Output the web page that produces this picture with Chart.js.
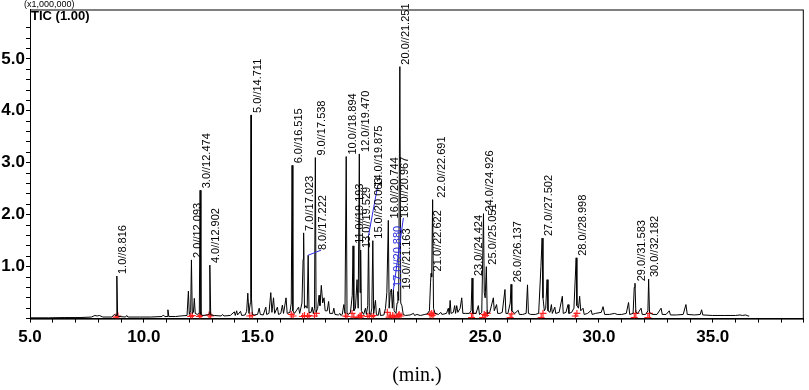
<!DOCTYPE html>
<html lang="en">
<head>
<meta charset="UTF-8">
<title>TIC chromatogram</title>
<style>
  body { margin: 0; background: #fff; }
</style>
</head>
<body>
<canvas id="myChart" width="809" height="390"></canvas>
<script src="https://cdn.jsdelivr.net/npm/chart.js"></script>
<script>
// retention time (min.) / intensity (x1,000,000)
const trace = [
  [5.00,0.015],[5.80,0.015],[6.50,0.02],[7.20,0.02],[7.70,0.03],[7.85,0.06],[7.95,0.05],[8.05,0.06],[8.20,0.03],
  [8.60,0.03],[8.70,0.08],[8.78,0.06],[8.816,0.82],[8.85,0.06],[8.90,0.04],[9.20,0.03],[9.25,0.06],[9.30,0.03],
  [9.80,0.03],[10.30,0.03],[10.80,0.04],[10.86,0.07],[10.92,0.04],[11.02,0.04],[11.06,0.17],[11.10,0.04],
  [11.40,0.04],[11.60,0.05],[11.90,0.06],[11.96,0.53],[12.00,0.08],[12.06,0.15],[12.093,1.13],[12.13,0.10],
  [12.18,0.12],[12.22,0.39],[12.26,0.10],[12.35,0.08],[12.44,0.10],[12.474,2.47],[12.51,0.08],[12.60,0.06],
  [12.80,0.07],[12.87,0.09],[12.902,1.03],[12.94,0.07],[13.10,0.06],[13.40,0.05],[13.46,0.08],[13.52,0.05],
  [13.80,0.06],[13.98,0.13],[14.02,0.06],[14.08,0.15],[14.12,0.07],[14.25,0.14],[14.30,0.06],[14.45,0.07],
  [14.52,0.14],[14.57,0.49],[14.62,0.10],[14.68,0.30],[14.70,2.40],[14.711,3.92],[14.73,0.40],[14.77,0.08],
  [14.85,0.07],[15.00,0.08],[15.07,0.20],[15.12,0.08],[15.25,0.07],[15.36,0.22],[15.40,0.08],[15.50,0.10],
  [15.58,0.50],[15.63,0.12],[15.70,0.40],[15.75,0.10],[15.87,0.22],[15.92,0.08],[16.02,0.10],[16.09,0.26],
  [16.14,0.10],[16.25,0.40],[16.30,0.10],[16.42,0.12],[16.48,0.30],[16.515,2.95],[16.55,0.15],[16.62,0.10],
  [16.70,0.15],[16.80,0.22],[16.85,0.10],[16.95,0.30],[17.00,1.14],[17.023,1.65],[17.06,0.20],[17.12,0.25],
  [17.18,0.20],[17.222,1.22],[17.26,0.12],[17.35,0.12],[17.40,0.22],[17.45,0.10],[17.50,0.20],[17.538,3.10],
  [17.57,0.12],[17.64,0.20],[17.70,0.45],[17.74,0.25],[17.80,0.64],[17.86,0.30],[17.92,0.40],[17.97,0.15],
  [18.06,0.15],[18.12,0.33],[18.17,0.10],[18.30,0.10],[18.35,0.20],[18.40,0.08],[18.55,0.07],[18.62,0.10],
  [18.66,0.06],[18.72,0.08],[18.79,0.27],[18.84,0.10],[18.894,3.12],[18.93,0.10],[19.00,0.08],[19.08,0.12],
  [19.16,0.45],[19.193,1.40],[19.23,0.15],[19.30,0.20],[19.37,0.75],[19.42,0.20],[19.470,3.17],[19.50,0.50],
  [19.529,1.32],[19.56,0.15],[19.66,0.08],[19.74,0.20],[19.78,0.08],[19.84,0.25],[19.875,1.60],[19.91,0.10],
  [19.97,0.08],[20.02,0.20],[20.063,1.50],[20.10,0.10],[20.18,0.35],[20.22,0.08],[20.30,0.06],[20.36,0.20],
  [20.40,0.06],[20.55,0.07],[20.62,0.20],[20.68,0.50],[20.744,1.89],[20.78,0.20],[20.83,0.50],[20.880,0.57],
  [20.92,0.20],[20.967,0.55],[21.00,0.15],[21.08,0.10],[21.13,0.30],[21.163,0.52],[21.20,0.35],[21.251,4.85],
  [21.29,0.30],[21.34,0.25],[21.40,0.08],[21.50,0.06],[21.70,0.07],[21.85,0.10],[21.90,0.06],[22.00,0.08],
  [22.15,0.06],[22.35,0.08],[22.45,0.09],[22.55,0.15],[22.60,0.70],[22.622,0.87],[22.65,0.80],[22.691,2.29],
  [22.73,0.20],[22.80,0.10],[22.95,0.08],[23.05,0.12],[23.10,0.08],[23.30,0.10],[23.38,0.20],[23.42,0.08],
  [23.46,0.35],[23.50,0.10],[23.60,0.12],[23.66,0.25],[23.70,0.10],[23.75,0.25],[23.80,0.12],[23.90,0.20],
  [23.97,0.40],[24.02,0.10],[24.15,0.10],[24.30,0.10],[24.38,0.15],[24.424,0.78],[24.46,0.10],[24.60,0.10],
  [24.70,0.25],[24.75,0.08],[24.85,0.12],[24.90,1.40],[24.926,2.02],[24.96,0.50],[25.00,0.40],[25.051,1.00],
  [25.09,0.10],[25.20,0.12],[25.36,0.40],[25.40,0.15],[25.50,0.27],[25.55,0.10],[25.65,0.10],[25.75,0.12],
  [25.87,0.56],[25.91,0.10],[26.00,0.10],[26.10,0.30],[26.137,0.66],[26.17,0.15],[26.30,0.10],[26.45,0.16],
  [26.50,0.08],[26.65,0.08],[26.80,0.10],[26.86,0.65],[26.90,0.10],[27.00,0.08],[27.20,0.08],[27.35,0.10],
  [27.45,1.00],[27.502,1.55],[27.54,0.40],[27.60,0.15],[27.66,0.20],[27.72,0.75],[27.76,0.15],[27.85,0.12],
  [27.91,0.27],[27.95,0.10],[28.06,0.22],[28.10,0.10],[28.25,0.12],[28.39,0.43],[28.43,0.10],[28.55,0.12],
  [28.64,0.27],[28.68,0.10],[28.80,0.12],[28.90,0.20],[28.998,1.17],[29.03,0.25],[29.10,0.20],[29.15,0.43],
  [29.20,0.15],[29.30,0.20],[29.35,0.08],[29.50,0.10],[29.66,0.16],[29.70,0.08],[29.85,0.10],[30.10,0.12],
  [30.18,0.23],[30.25,0.08],[30.45,0.08],[30.69,0.10],[30.80,0.08],[31.00,0.08],[31.20,0.10],[31.30,0.31],
  [31.35,0.08],[31.50,0.10],[31.55,0.60],[31.583,0.68],[31.62,0.12],[31.70,0.10],[31.85,0.20],[31.90,0.08],
  [32.05,0.08],[32.15,0.15],[32.182,0.76],[32.22,0.12],[32.35,0.08],[32.55,0.08],[32.73,0.20],[32.78,0.08],
  [32.95,0.08],[33.09,0.15],[33.14,0.07],[33.40,0.07],[33.70,0.08],[33.82,0.27],[33.88,0.08],[34.20,0.07],
  [34.45,0.08],[34.51,0.17],[34.56,0.07],[35.00,0.06],[35.50,0.06],[36.00,0.06],[36.20,0.07],[36.30,0.06],
  [36.45,0.07],[36.55,0.05],[36.60,0.05]
];

// labelled peaks
const peakNames = ["1.0//8.816","2.0//12.093","3.0//12.474","4.0//12.902","5.0//14.711","6.0//16.515",
  "7.0//17.023","8.0//17.222","9.0//17.538","10.0//18.894","11.0//19.193","12.0//19.470","13.0//19.529",
  "14.0//19.875","15.0//20.063","16.0//20.744","17.0//20.880","18.0//20.967","19.0//21.163","20.0//21.251",
  "21.0//22.622","22.0//22.691","23.0//24.424","24.0//24.926","25.0//25.051","26.0//26.137","27.0//27.502",
  "28.0//28.998","29.0//31.583","30.0//32.182"];
const peakRt = [8.816,12.093,12.474,12.902,14.711,16.515,17.023,17.222,17.538,18.894,19.193,19.470,19.529,
  19.875,20.063,20.744,20.880,20.967,21.163,21.251,22.622,22.691,24.424,24.926,25.051,26.137,27.502,28.998,
  31.583,32.182];
const peakTop = [0.82,1.13,2.47,1.03,3.92,2.95,1.65,1.22,3.10,3.12,1.40,3.17,1.32,1.60,1.50,1.89,0.57,0.55,
  0.52,4.85,0.87,2.29,0.78,2.02,1.00,0.66,1.55,1.17,0.68,0.76];

// integration marks (red crosses)
const markRt = [8.78,8.86,12.06,12.13,12.44,12.51,12.87,12.94,14.66,14.76,16.48,16.56,16.98,17.06,17.19,17.26,
  17.50,17.58,18.86,18.93,19.15,19.23,19.43,19.50,19.51,19.56,19.84,19.91,20.02,20.10,20.70,20.78,20.84,20.92,
  20.94,21.00,21.13,21.20,21.22,21.30,22.58,22.65,22.67,22.74,24.40,24.46,24.89,24.96,25.02,25.09,26.10,26.17,
  27.46,27.54,28.96,29.03,31.55,31.62,32.15,32.22];
const markTic = [0.03,0.05,0.04,0.06,0.04,0.06,0.07,0.05,0.05,0.06,0.08,0.05,0.04,0.06,0.04,0.06,
  0.05,0.10,0.05,0.04,0.10,0.03,0.02,0.05,0.03,0.06,0.04,0.05,0.04,0.06,0.12,0.03,0.05,0.02,
  0.06,0.03,0.04,0.06,0.08,0.05,0.08,0.10,0.06,0.09,0.02,0.10,0.02,0.08,0.06,0.10,0.02,0.09,
  0.02,0.10,0.05,0.10,0.02,0.10,0.02,0.10];

// label placement tweaks (pixels / label start level) for crowded peaks
const labelTweak = {
  7: { dx: 8, at: 1.28, lead: true },
  13: { dx: 4, at: 2.5, lead: true },
  17: { dx: 5, at: 1.9, lead: true },
  18: { dx: 3 },
  21: { dx: 3 }
};
const blueLabels = [16];

const tickFamily = "'Liberation Sans', Arial, sans-serif";

const decor = {
  id: 'decor',
  afterDatasetsDraw(chart) {
    const ctx = chart.ctx;
    const xs = chart.scales.x, ys = chart.scales.y;
    ctx.save();
    ctx.font = "11px 'Liberation Sans', Arial, sans-serif";
    ctx.textBaseline = 'top';
    ctx.textAlign = 'left';
    peakNames.forEach((name, i) => {
      const t = labelTweak[i] || {};
      const px = xs.getPixelForValue(peakRt[i]);
      const py = ys.getPixelForValue(peakTop[i]);
      const lx = px + 1 + (t.dx || 0);
      const ly = (t.at !== undefined ? ys.getPixelForValue(t.at) : py) - 2;
      if (t.lead) {
        ctx.strokeStyle = '#2a2ae0';
        ctx.lineWidth = 1;
        ctx.beginPath();
        ctx.moveTo(px, py);
        ctx.lineTo(lx + 4, ly);
        ctx.stroke();
      }
      ctx.fillStyle = blueLabels.includes(i) ? '#2a2ae0' : '#000';
      ctx.save();
      ctx.translate(lx, ly);
      ctx.rotate(-Math.PI / 2);
      ctx.fillText(name, 0, 0);
      ctx.restore();
    });
    ctx.restore();
  },
  afterDraw(chart) {
    const ctx = chart.ctx, a = chart.chartArea;
    ctx.save();
    ctx.strokeStyle = '#000';
    ctx.lineWidth = 1;
    ctx.strokeRect(a.left + 0.5, a.top + 0.5, a.right - a.left - 1, a.bottom - a.top);
    ctx.fillStyle = '#000';
    ctx.textBaseline = 'middle';
    ctx.font = "9px 'Liberation Sans', Arial, sans-serif";
    ctx.fillText('(x1,000,000)', 24, 5);
    ctx.font = "bold 13px 'Liberation Sans', Arial, sans-serif";
    ctx.fillText('TIC (1.00)', 31, 16);
    ctx.restore();
  }
};

new Chart(document.getElementById('myChart'), {
  type: 'line',
  data: {
    datasets: [{
      label: 'TIC',
      data: trace.map(p => ({ x: p[0], y: p[1] })),
      borderColor: '#000',
      borderWidth: 1,
      pointRadius: 0,
      tension: 0
    }, {
      type: 'scatter',
      label: 'marks',
      data: markRt.map((t, i) => ({ x: t, y: markTic[i] })),
      pointStyle: 'cross',
      pointRadius: 3.5,
      borderColor: '#ff2020',
      borderWidth: 1.2,
      showLine: false
    }]
  },
  options: {
    responsive: false,
    animation: false,
    devicePixelRatio: 1,
    layout: { padding: { top: 9, right: 2, left: 0, bottom: 0 } },
    plugins: { legend: { display: false }, tooltip: { enabled: false } },
    scales: {
      x: {
        type: 'linear',
        min: 5, max: 39,
        grid: { drawOnChartArea: false, tickLength: 4, color: '#000', tickColor: '#000' },
        border: { color: '#000', width: 1 },
        ticks: {
          stepSize: 1, autoSkip: false, maxRotation: 0, padding: 5, color: '#000',
          font: { family: tickFamily, size: 17, weight: 'bold', lineHeight: 1.2 },
          callback: v => (Math.abs(v % 5) < 1e-6 && v < 38) ? v.toFixed(1) : ''
        },
        title: {
          display: true, text: '(min.)', color: '#000',
          font: { family: "'Liberation Serif', 'Times New Roman', serif", size: 20 },
          padding: { top: 11, bottom: 2 }
        }
      },
      y: {
        min: 0, max: 5.95,
        grid: { drawOnChartArea: false, tickLength: 4, color: '#000', tickColor: '#000' },
        border: { color: '#000', width: 1 },
        afterBuildTicks: s => { s.ticks = s.ticks.filter(t => t.value < 5.9); },
        afterFit: s => { s.width = 30; },
        ticks: {
          stepSize: 0.2, autoSkip: false, padding: 1, color: '#000',
          font: { family: tickFamily, size: 17, weight: 'bold', lineHeight: 1 },
          callback: v => (v >= 0.99 && Math.abs(v - Math.round(v)) < 1e-6) ? v.toFixed(1) : ''
        }
      }
    }
  },
  plugins: [decor]
});
</script>
</body>
</html>
